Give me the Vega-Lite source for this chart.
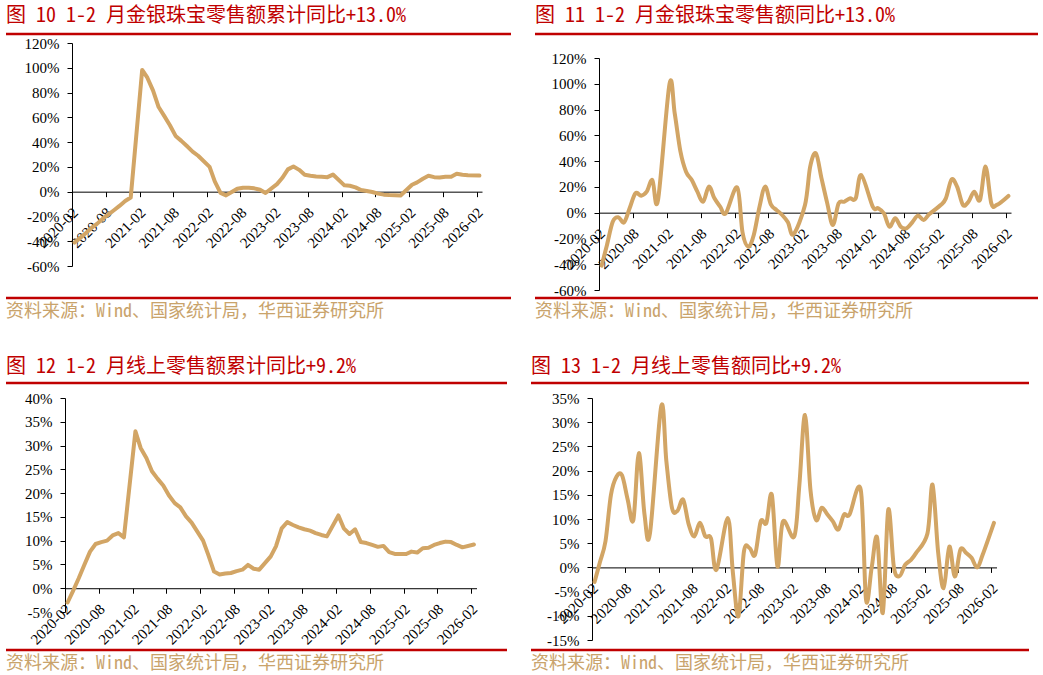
{
  "$schema": "https://vega.github.io/schema/vega-lite/v6.json",
  "padding": {"left": 4, "top": 5, "right": 5, "bottom": 5},
  "background": "white",
  "datasets": {
    "d": [
      {"date": "2020-02-15", "a": -41.1, "b": -41.1, "c": -3.0, "e": -3.0},
      {"date": "2020-03-15", "a": -37.5, "b": -25, "c": -0.6, "e": 1},
      {"date": "2020-04-15", "a": -33.5, "b": -7, "c": 2.1, "e": 5.4},
      {"date": "2020-05-15", "a": -29.5, "b": -3.6, "c": 4.9, "e": 15},
      {"date": "2020-06-15", "a": -26, "b": -7.5, "c": 7.7, "e": 18.8},
      {"date": "2020-07-15", "a": -22, "b": 3.4, "c": 9.3, "e": 19},
      {"date": "2020-08-15", "a": -18.5, "b": 15, "c": 9.7, "e": 14},
      {"date": "2020-09-15", "a": -15, "b": 13.2, "c": 10, "e": 9.8},
      {"date": "2020-10-15", "a": -11.5, "b": 16.3, "c": 11.1, "e": 23.6},
      {"date": "2020-11-15", "a": -7.5, "b": 25.3, "c": 11.6, "e": 11},
      {"date": "2020-12-15", "a": -4.7, "b": 9.8, "c": 10.7, "e": 7},
      {"date": "2021-02-15", "a": 98.3, "b": 100, "c": 33, "e": 33.3},
      {"date": "2021-03-15", "a": 92, "b": 77, "c": 29.5, "e": 22},
      {"date": "2021-04-15", "a": 81.6, "b": 47.3, "c": 27.4, "e": 12.3},
      {"date": "2021-05-15", "a": 68.3, "b": 31.8, "c": 24.6, "e": 11.7},
      {"date": "2021-06-15", "a": 61, "b": 25.3, "c": 23, "e": 14},
      {"date": "2021-07-15", "a": 53.6, "b": 16.3, "c": 21.6, "e": 9},
      {"date": "2021-08-15", "a": 45, "b": 8.5, "c": 19.5, "e": 6.4},
      {"date": "2021-09-15", "a": 41, "b": 20.2, "c": 17.9, "e": 9.2},
      {"date": "2021-10-15", "a": 36.8, "b": 11.1, "c": 17, "e": 6.4},
      {"date": "2021-11-15", "a": 32.3, "b": 4.7, "c": 15.1, "e": 6},
      {"date": "2021-12-15", "a": 29, "b": -0.5, "c": 13.8, "e": -0.5},
      {"date": "2022-02-15", "a": 20, "b": 19.5, "c": 10, "e": 10.2},
      {"date": "2022-03-15", "a": 8.3, "b": -15, "c": 7, "e": -1},
      {"date": "2022-04-15", "a": -1, "b": -26.4, "c": 3.5, "e": -10.1},
      {"date": "2022-05-15", "a": -3, "b": -17.3, "c": 2.9, "e": 3.3},
      {"date": "2022-06-15", "a": -0.3, "b": 4.7, "c": 3.1, "e": 4},
      {"date": "2022-07-15", "a": 2.4, "b": 20.2, "c": 3.2, "e": 2.6},
      {"date": "2022-08-15", "a": 3.2, "b": 6.5, "c": 3.6, "e": 9.5},
      {"date": "2022-09-15", "a": 3.2, "b": 2, "c": 3.9, "e": 9.2},
      {"date": "2022-10-15", "a": 2.7, "b": -1.8, "c": 4.9, "e": 15},
      {"date": "2022-11-15", "a": 1.6, "b": -7.5, "c": 4.1, "e": 0.2},
      {"date": "2022-12-15", "a": -1.1, "b": -16.8, "c": 3.9, "e": 9.5},
      {"date": "2023-02-15", "a": 6.1, "b": 6, "c": 6.7, "e": 6.4},
      {"date": "2023-03-15", "a": 11, "b": 35.7, "c": 8.8, "e": 17},
      {"date": "2023-04-15", "a": 18, "b": 46, "c": 12.6, "e": 31.5},
      {"date": "2023-05-15", "a": 20.3, "b": 26.6, "c": 13.9, "e": 16},
      {"date": "2023-06-15", "a": 17.6, "b": 7.2, "c": 13.3, "e": 9.8},
      {"date": "2023-07-15", "a": 13.6, "b": -9.6, "c": 12.8, "e": 12.3},
      {"date": "2023-08-15", "a": 12.8, "b": 7.2, "c": 12.4, "e": 11},
      {"date": "2023-09-15", "a": 12.3, "b": 8.5, "c": 12.1, "e": 9.5},
      {"date": "2023-10-15", "a": 12, "b": 11.1, "c": 11.6, "e": 7.8},
      {"date": "2023-11-15", "a": 11.7, "b": 11, "c": 11.2, "e": 10.9},
      {"date": "2023-12-15", "a": 13.8, "b": 29.2, "c": 10.9, "e": 10.9},
      {"date": "2024-02-15", "a": 5.1, "b": 4.7, "c": 15.3, "e": 16},
      {"date": "2024-03-15", "a": 4.8, "b": 3.4, "c": 12.6, "e": -6.7},
      {"date": "2024-04-15", "a": 3.5, "b": -0.5, "c": 11.4, "e": 0},
      {"date": "2024-05-15", "a": 1.3, "b": -10.9, "c": 12.4, "e": 6.1},
      {"date": "2024-06-15", "a": 0.5, "b": -4.4, "c": 9.7, "e": -9.4},
      {"date": "2024-07-15", "a": -0.3, "b": -10.9, "c": 9.5, "e": 11.9},
      {"date": "2024-08-15", "a": -1.6, "b": -12.1, "c": 9.1, "e": 0},
      {"date": "2024-09-15", "a": -2.4, "b": -7.5, "c": 8.7, "e": -1.8},
      {"date": "2024-10-15", "a": -2.7, "b": -2.3, "c": 8.9, "e": 0.5},
      {"date": "2024-11-15", "a": -2.9, "b": -5.7, "c": 7.6, "e": 1.5},
      {"date": "2024-12-15", "a": -3.1, "b": -1.3, "c": 7.2, "e": 3},
      {"date": "2025-02-15", "a": 5.6, "b": 5.9, "c": 7.2, "e": 7},
      {"date": "2025-03-15", "a": 7.5, "b": 11.1, "c": 7.7, "e": 17.1},
      {"date": "2025-04-15", "a": 10.4, "b": 25.8, "c": 7.5, "e": 3},
      {"date": "2025-05-15", "a": 12.8, "b": 20, "c": 8.4, "e": -4.3},
      {"date": "2025-06-15", "a": 11.7, "b": 6, "c": 8.5, "e": 4.3},
      {"date": "2025-07-15", "a": 11.5, "b": 8.5, "c": 9.1, "e": -1.9},
      {"date": "2025-08-15", "a": 12, "b": 16.3, "c": 9.5, "e": 3.7},
      {"date": "2025-09-15", "a": 12, "b": 9.8, "c": 9.8, "e": 3},
      {"date": "2025-10-15", "a": 14.4, "b": 35.7, "c": 9.7, "e": 2},
      {"date": "2025-11-15", "a": 13.6, "b": 7.2, "c": 9.1, "e": 0},
      {"date": "2025-12-15", "a": 13.3, "b": 6, "c": 8.6, "e": 2.6},
      {"date": "2026-02-15", "a": 13.0, "b": 13.0, "c": 9.2, "e": 9.2}
    ]
  },
  "vconcat": [
    {
      "hconcat": [
        {
          "vconcat": [
            {
              "width": 505, "height": 9,
              "title": {"text": "图 10 1-2 月金银珠宝零售额累计同比+13.0%"},
              "data": {"values": [{}]},
              "mark": {"type": "rule", "color": "#c00000", "strokeWidth": 2.5},
              "encoding": {"y": {"datum": 1, "scale": {"domain": [0, 1]}, "axis": null}}
            },
            {
              "width": 505, "height": 223,
              "data": {"name": "d"},
              "mark": {"type": "line", "interpolate": "linear", "color": "#d2a565", "strokeWidth": 4, "strokeJoin": "round", "strokeCap": "round"},
              "encoding": {
                "x": {"field": "date", "type": "temporal",
                  "scale": {"type": "utc", "domain": [{"year": 2020, "month": 2, "date": 1, "utc": true}, {"year": 2026, "month": 3, "date": 1, "utc": true}], "range": [66, 476]},
                  "axis": {"offset": -74.33, "values": [
                    {"year": 2020, "month": 2, "date": 1, "utc": true}, {"year": 2020, "month": 8, "date": 1, "utc": true},
                    {"year": 2021, "month": 2, "date": 1, "utc": true}, {"year": 2021, "month": 8, "date": 1, "utc": true},
                    {"year": 2022, "month": 2, "date": 1, "utc": true}, {"year": 2022, "month": 8, "date": 1, "utc": true},
                    {"year": 2023, "month": 2, "date": 1, "utc": true}, {"year": 2023, "month": 8, "date": 1, "utc": true},
                    {"year": 2024, "month": 2, "date": 1, "utc": true}, {"year": 2024, "month": 8, "date": 1, "utc": true},
                    {"year": 2025, "month": 2, "date": 1, "utc": true}, {"year": 2025, "month": 8, "date": 1, "utc": true},
                    {"year": 2026, "month": 2, "date": 1, "utc": true}]}},
                "y": {"field": "a", "type": "quantitative",
                  "scale": {"domain": [-60, 120], "nice": false, "zero": false},
                  "axis": {"offset": -66, "values": [-60, -40, -20, 0, 20, 40, 60, 80, 100, 120], "labelExpr": "datum.value + '%'"}}
              }
            },
            {
              "width": 505, "height": 32,
              "title": {"text": "资料来源：Wind、国家统计局，华西证券研究所", "orient": "bottom", "fontSize": 18, "color": "#c9a36b", "offset": 4},
              "data": {"values": [{}]},
              "mark": {"type": "rule", "color": "#c00000", "strokeWidth": 2.5},
              "encoding": {"y": {"datum": 0, "scale": {"domain": [0, 1]}, "axis": null}}
            }
          ],
          "spacing": 0, "bounds": "flush"
        },
        {
          "vconcat": [
            {
              "width": 503, "height": 24,
              "title": {"text": "图 11 1-2 月金银珠宝零售额同比+13.0%"},
              "data": {"values": [{}]},
              "mark": {"type": "rule", "color": "#c00000", "strokeWidth": 2.5},
              "encoding": {"y": {"datum": 1, "scale": {"domain": [0, 1]}, "axis": null}}
            },
            {
              "width": 503, "height": 232,
              "data": {"name": "d"},
              "mark": {"type": "line", "interpolate": "cardinal", "color": "#d2a565", "strokeWidth": 4, "strokeJoin": "round", "strokeCap": "round"},
              "encoding": {
                "x": {"field": "date", "type": "temporal",
                  "scale": {"type": "utc", "domain": [{"year": 2020, "month": 2, "date": 1, "utc": true}, {"year": 2026, "month": 3, "date": 1, "utc": true}], "range": [64, 476]},
                  "axis": {"offset": -77.33, "values": [
                    {"year": 2020, "month": 2, "date": 1, "utc": true}, {"year": 2020, "month": 8, "date": 1, "utc": true},
                    {"year": 2021, "month": 2, "date": 1, "utc": true}, {"year": 2021, "month": 8, "date": 1, "utc": true},
                    {"year": 2022, "month": 2, "date": 1, "utc": true}, {"year": 2022, "month": 8, "date": 1, "utc": true},
                    {"year": 2023, "month": 2, "date": 1, "utc": true}, {"year": 2023, "month": 8, "date": 1, "utc": true},
                    {"year": 2024, "month": 2, "date": 1, "utc": true}, {"year": 2024, "month": 8, "date": 1, "utc": true},
                    {"year": 2025, "month": 2, "date": 1, "utc": true}, {"year": 2025, "month": 8, "date": 1, "utc": true},
                    {"year": 2026, "month": 2, "date": 1, "utc": true}]}},
                "y": {"field": "b", "type": "quantitative",
                  "scale": {"domain": [-60, 120], "nice": false, "zero": false},
                  "axis": {"offset": -64, "values": [-60, -40, -20, 0, 20, 40, 60, 80, 100, 120], "labelExpr": "datum.value + '%'"}}
              }
            },
            {
              "width": 503, "height": 8,
              "title": {"text": "资料来源：Wind、国家统计局，华西证券研究所", "orient": "bottom", "fontSize": 18, "color": "#c9a36b", "offset": 4},
              "data": {"values": [{}]},
              "mark": {"type": "rule", "color": "#c00000", "strokeWidth": 2.5},
              "encoding": {"y": {"datum": 0, "scale": {"domain": [0, 1]}, "axis": null}}
            }
          ],
          "spacing": 0, "bounds": "flush"
        }
      ],
      "spacing": 20, "bounds": "full"
    },
    {
      "hconcat": [
        {
          "vconcat": [
            {
              "width": 501, "height": 15,
              "title": {"text": "图 12 1-2 月线上零售额累计同比+9.2%", "dy": 2},
              "data": {"values": [{}]},
              "mark": {"type": "rule", "color": "#c00000", "strokeWidth": 2.5},
              "encoding": {"y": {"datum": 1, "scale": {"domain": [0, 1]}, "axis": null}}
            },
            {
              "width": 501, "height": 214,
              "data": {"name": "d"},
              "mark": {"type": "line", "interpolate": "linear", "color": "#d2a565", "strokeWidth": 4, "strokeJoin": "round", "strokeCap": "round"},
              "encoding": {
                "x": {"field": "date", "type": "temporal",
                  "scale": {"type": "utc", "domain": [{"year": 2020, "month": 2, "date": 1, "utc": true}, {"year": 2026, "month": 3, "date": 1, "utc": true}], "range": [59, 470.5]},
                  "axis": {"offset": -23.78, "values": [
                    {"year": 2020, "month": 2, "date": 1, "utc": true}, {"year": 2020, "month": 8, "date": 1, "utc": true},
                    {"year": 2021, "month": 2, "date": 1, "utc": true}, {"year": 2021, "month": 8, "date": 1, "utc": true},
                    {"year": 2022, "month": 2, "date": 1, "utc": true}, {"year": 2022, "month": 8, "date": 1, "utc": true},
                    {"year": 2023, "month": 2, "date": 1, "utc": true}, {"year": 2023, "month": 8, "date": 1, "utc": true},
                    {"year": 2024, "month": 2, "date": 1, "utc": true}, {"year": 2024, "month": 8, "date": 1, "utc": true},
                    {"year": 2025, "month": 2, "date": 1, "utc": true}, {"year": 2025, "month": 8, "date": 1, "utc": true},
                    {"year": 2026, "month": 2, "date": 1, "utc": true}]}},
                "y": {"field": "c", "type": "quantitative",
                  "scale": {"domain": [-5, 40], "nice": false, "zero": false},
                  "axis": {"offset": -59, "values": [-5, 0, 5, 10, 15, 20, 25, 30, 35, 40], "labelExpr": "datum.value + '%'"}}
              }
            },
            {
              "width": 501, "height": 38,
              "title": {"text": "资料来源：Wind、国家统计局，华西证券研究所", "orient": "bottom", "fontSize": 18, "color": "#c9a36b", "offset": 4},
              "data": {"values": [{}]},
              "mark": {"type": "rule", "color": "#c00000", "strokeWidth": 2.5},
              "encoding": {"y": {"datum": 0, "scale": {"domain": [0, 1]}, "axis": null}}
            }
          ],
          "spacing": 0, "bounds": "flush"
        },
        {
          "vconcat": [
            {
              "width": 498, "height": 15,
              "title": {"text": "图 13 1-2 月线上零售额同比+9.2%", "dy": 2},
              "data": {"values": [{}]},
              "mark": {"type": "rule", "color": "#c00000", "strokeWidth": 2.5},
              "encoding": {"y": {"datum": 1, "scale": {"domain": [0, 1]}, "axis": null}}
            },
            {
              "width": 498, "height": 242,
              "data": {"name": "d"},
              "mark": {"type": "line", "interpolate": "cardinal", "color": "#d2a565", "strokeWidth": 4, "strokeJoin": "round", "strokeCap": "round"},
              "encoding": {
                "x": {"field": "date", "type": "temporal",
                  "scale": {"type": "utc", "domain": [{"year": 2020, "month": 2, "date": 1, "utc": true}, {"year": 2026, "month": 3, "date": 1, "utc": true}], "range": [61, 465.5]},
                  "axis": {"offset": -72.6, "values": [
                    {"year": 2020, "month": 2, "date": 1, "utc": true}, {"year": 2020, "month": 8, "date": 1, "utc": true},
                    {"year": 2021, "month": 2, "date": 1, "utc": true}, {"year": 2021, "month": 8, "date": 1, "utc": true},
                    {"year": 2022, "month": 2, "date": 1, "utc": true}, {"year": 2022, "month": 8, "date": 1, "utc": true},
                    {"year": 2023, "month": 2, "date": 1, "utc": true}, {"year": 2023, "month": 8, "date": 1, "utc": true},
                    {"year": 2024, "month": 2, "date": 1, "utc": true}, {"year": 2024, "month": 8, "date": 1, "utc": true},
                    {"year": 2025, "month": 2, "date": 1, "utc": true}, {"year": 2025, "month": 8, "date": 1, "utc": true},
                    {"year": 2026, "month": 2, "date": 1, "utc": true}]}},
                "y": {"field": "e", "type": "quantitative",
                  "scale": {"domain": [-15, 35], "nice": false, "zero": false},
                  "axis": {"offset": -61, "values": [-15, -10, -5, 0, 5, 10, 15, 20, 25, 30, 35], "labelExpr": "datum.value + '%'"}}
              }
            },
            {
              "width": 498, "height": 10,
              "title": {"text": "资料来源：Wind、国家统计局，华西证券研究所", "orient": "bottom", "fontSize": 18, "color": "#c9a36b", "offset": 4},
              "data": {"values": [{}]},
              "mark": {"type": "rule", "color": "#c00000", "strokeWidth": 2.5},
              "encoding": {"y": {"datum": 0, "scale": {"domain": [0, 1]}, "axis": null}}
            }
          ],
          "spacing": 0, "bounds": "flush"
        }
      ],
      "spacing": 20, "bounds": "full"
    }
  ],
  "spacing": 34,
  "bounds": "full",
  "config": {
    "view": {"stroke": null},
    "title": {"anchor": "start", "frame": "group", "font": "Noto Sans Mono CJK SC, Noto Sans CJK SC", "fontSize": 20, "fontWeight": "normal", "color": "#c00000", "offset": 7},
    "axis": {
      "title": null, "grid": false,
      "labelFont": "Liberation Serif", "labelFontSize": 15, "labelColor": "#000",
      "domainColor": "#000", "domainWidth": 1, "tickColor": "#000", "tickWidth": 1, "tickSize": 5,
      "labelFlush": false, "labelOverlap": false, "labelBound": false
    },
    "axisX": {"format": "%Y-%m", "labelAngle": -45, "labelAlign": "right", "labelBaseline": "middle", "labelPadding": 13, "labelOffset": 3},
    "axisY": {"labelPadding": 8}
  }
}
